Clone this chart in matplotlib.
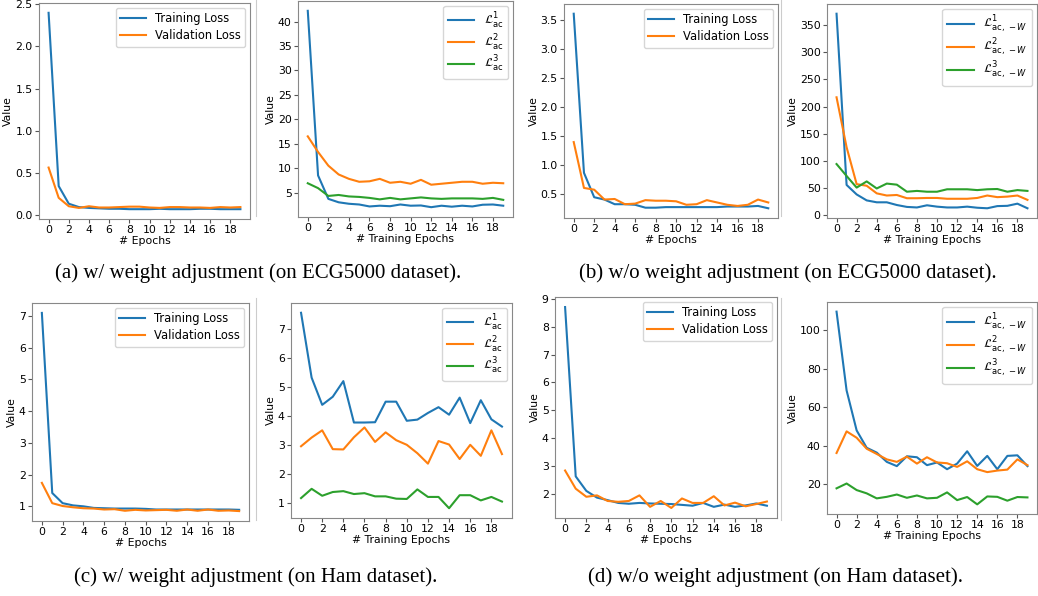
import numpy as np
import matplotlib.pyplot as plt
from matplotlib.lines import Line2D

epochs = np.arange(20)

# (a) ECG5000, with weight adjustment
ecg_w_train = [2.40, 0.34, 0.13, 0.09, 0.08, 0.075, 0.07, 0.07, 0.065, 0.065,
               0.065, 0.07, 0.065, 0.065, 0.065, 0.07, 0.07, 0.065, 0.065, 0.065]
ecg_w_val = [0.56, 0.20, 0.10, 0.08, 0.10, 0.085, 0.085, 0.09, 0.095, 0.095,
             0.085, 0.08, 0.09, 0.09, 0.085, 0.085, 0.08, 0.09, 0.085, 0.09]
ecg_w_l1 = [42.2, 8.5, 3.7, 3.0, 2.7, 2.55, 2.15, 2.3, 2.2, 2.55,
            2.3, 2.35, 2.0, 2.3, 2.1, 2.3, 2.15, 2.5, 2.55, 2.3]
ecg_w_l2 = [16.5, 13.3, 10.5, 8.7, 7.8, 7.2, 7.3, 7.8, 7.0, 7.2,
            6.8, 7.6, 6.6, 6.8, 7.0, 7.2, 7.2, 6.8, 7.0, 6.9]
ecg_w_l3 = [6.9, 5.9, 4.3, 4.5, 4.2, 4.1, 3.9, 3.6, 3.9, 3.6,
            3.8, 4.0, 3.8, 3.7, 3.8, 3.8, 3.8, 3.7, 3.9, 3.5]

# (b) ECG5000, without weight adjustment
ecg_nw_train = [3.6, 0.86, 0.44, 0.40, 0.32, 0.32, 0.31, 0.26, 0.26, 0.27,
                0.27, 0.27, 0.27, 0.27, 0.27, 0.28, 0.28, 0.28, 0.29, 0.25]
ecg_nw_val = [1.39, 0.60, 0.57, 0.40, 0.41, 0.32, 0.33, 0.39, 0.38, 0.38,
              0.37, 0.31, 0.32, 0.39, 0.35, 0.31, 0.29, 0.31, 0.40, 0.35]
ecg_nw_l1 = [371, 55.5, 38, 27, 23.5, 23.5, 18.5, 15, 14, 18,
             15.5, 14, 14, 15.5, 13.5, 12.5, 16.5, 17, 21, 12.5]
ecg_nw_l2 = [217, 125, 57, 54, 40, 36, 37, 31, 31, 31.5,
             31.5, 30, 30, 30, 31.5, 36, 33, 34, 36, 28]
ecg_nw_l3 = [94, 72, 50.6, 62, 49, 58, 56, 43, 44.5, 43,
             43, 47.5, 47.5, 47.5, 46, 47.5, 48, 43, 46, 44.5]

# (c) Ham, with weight adjustment
ham_w_train = [7.1, 1.42, 1.10, 1.03, 1.00, 0.95, 0.94, 0.93, 0.93, 0.93,
               0.92, 0.90, 0.90, 0.90, 0.90, 0.90, 0.90, 0.90, 0.90, 0.89]
ham_w_val = [1.74, 1.10, 1.01, 0.97, 0.94, 0.93, 0.90, 0.91, 0.86, 0.89,
             0.87, 0.88, 0.89, 0.86, 0.90, 0.86, 0.90, 0.86, 0.87, 0.85]
ham_w_l1 = [7.56, 5.32, 4.38, 4.66, 5.2, 3.77, 3.77, 3.78, 4.49, 4.49,
            3.83, 3.87, 4.1, 4.3, 4.04, 4.63, 3.75, 4.54, 3.88, 3.63]
ham_w_l2 = [2.95, 3.25, 3.5, 2.85, 2.84, 3.26, 3.6, 3.1, 3.43, 3.16,
            3.0, 2.71, 2.35, 3.13, 3.01, 2.51, 3.0, 2.62, 3.5, 2.68]
ham_w_l3 = [1.16, 1.48, 1.24, 1.37, 1.4, 1.3, 1.33, 1.22, 1.22, 1.14,
            1.13, 1.46, 1.2, 1.2, 0.81, 1.26, 1.26, 1.08, 1.2, 1.04]

# (d) Ham, without weight adjustment
ham_nw_train = [8.7, 2.64, 2.12, 1.88, 1.79, 1.69, 1.66, 1.69, 1.67, 1.66,
                1.65, 1.62, 1.59, 1.69, 1.55, 1.63, 1.55, 1.60, 1.67, 1.59]
ham_nw_val = [2.85, 2.20, 1.91, 1.96, 1.76, 1.73, 1.76, 1.96, 1.55, 1.76,
              1.51, 1.85, 1.69, 1.69, 1.93, 1.60, 1.70, 1.57, 1.65, 1.74]
ham_nw_l1 = [109.5, 68.7, 48, 39, 36.5, 31.7, 29.5, 34.6, 34.1, 30,
             31.4, 27.9, 30.8, 37.2, 29.6, 34.8, 27.9, 34.8, 35.1, 29.5]
ham_nw_l2 = [36.3, 47.5, 44.2, 38.5, 35.8, 33, 31.7, 34.4, 30.8, 34.1,
             31.4, 31, 29.1, 32, 27.9, 26.4, 27.2, 27.7, 33, 30]
ham_nw_l3 = [18, 20.5, 17.1, 15.4, 12.8, 13.6, 14.8, 13.1, 14.3, 12.8,
             13.1, 15.9, 11.9, 13.5, 9.7, 13.8, 13.6, 11.6, 13.5, 13.3]

loss_labels = ["Training Loss", "Validation Loss"]
ac_labels = [r"$\mathcal{L}^{1}_{\mathrm{ac}}$",
             r"$\mathcal{L}^{2}_{\mathrm{ac}}$",
             r"$\mathcal{L}^{3}_{\mathrm{ac}}$"]
acw_labels = [r"$\mathcal{L}^{1}_{\mathrm{ac},\,-W}$",
              r"$\mathcal{L}^{2}_{\mathrm{ac},\,-W}$",
              r"$\mathcal{L}^{3}_{\mathrm{ac},\,-W}$"]
captions = ["(a) w/ weight adjustment (on ECG5000 dataset).",
            "(b) w/o weight adjustment (on ECG5000 dataset).",
            "(c) w/ weight adjustment (on Ham dataset).",
            "(d) w/o weight adjustment (on Ham dataset)."]

W, H = 1038, 596
fig = plt.figure(figsize=(W / 100, H / 100), dpi=100)


def box(x0, y0, x1, y1):
    return [x0 / W, 1 - y1 / H, (x1 - x0) / W, (y1 - y0) / H]


def panel(rect, series, labels, xlabel, yticks, math=False):
    ax = fig.add_axes(box(*rect))
    colors = ["tab:blue", "tab:orange", "tab:green"]
    for s, lab, c in zip(series, labels, colors):
        ax.plot(epochs, s, color=c, label=lab, lw=1.5)
    ax.set_xticks(range(0, 20, 2))
    ax.set_yticks(yticks)
    ax.tick_params(labelsize=7.8, color="#555555", length=3, pad=1.5)
    for sp in ax.spines.values():
        sp.set_color("#888888")
    ax.set_xlabel(xlabel, fontsize=7.8, labelpad=0.5)
    ax.set_ylabel("Value", fontsize=7.8, labelpad=1.5)
    if math:
        ax.legend(loc="upper right", fontsize=8.6, handlelength=2.2,
                  labelspacing=0.15, borderaxespad=0.4)
    else:
        ax.legend(loc="upper right", fontsize=8.3, handlelength=2.2,
                  labelspacing=0.35, borderaxespad=0.4)
    return ax


panel((39, 3, 250, 219), [ecg_w_train, ecg_w_val], loss_labels, "# Epochs",
      [0, 0.5, 1.0, 1.5, 2.0, 2.5])
panel((298, 1, 513, 217), [ecg_w_l1, ecg_w_l2, ecg_w_l3], ac_labels,
      "# Training Epochs", range(5, 45, 5), math=True)
panel((564, 4, 778, 218), [ecg_nw_train, ecg_nw_val], loss_labels, "# Epochs",
      [0.5, 1.0, 1.5, 2.0, 2.5, 3.0, 3.5])
panel((827, 4, 1037, 218), [ecg_nw_l1, ecg_nw_l2, ecg_nw_l3], acw_labels,
      "# Training Epochs", range(0, 400, 50), math=True)
panel((32, 303, 249, 521), [ham_w_train, ham_w_val], loss_labels, "# Epochs",
      range(1, 8))
panel((291, 303, 512, 518), [ham_w_l1, ham_w_l2, ham_w_l3], ac_labels,
      "# Training Epochs", range(1, 8), math=True)
panel((555, 297, 777, 518), [ham_nw_train, ham_nw_val], loss_labels, "# Epochs",
      range(2, 10))
panel((827, 302, 1037, 514), [ham_nw_l1, ham_nw_l2, ham_nw_l3], acw_labels,
      "# Training Epochs", range(20, 120, 20), math=True)

# faint borders of the embedded images
for x, y0, y1 in [(256, 0, 216), (781, 0, 216), (256, 298, 520), (781, 298, 520)]:
    fig.add_artist(Line2D([x / W, x / W], [1 - y0 / H, 1 - y1 / H],
                          color="#cccccc", lw=0.8))

cap_pos = [(258, 273), (788, 273), (256, 577), (776, 577)]
for (cx, cy), txt in zip(cap_pos, captions):
    fig.text(cx / W, 1 - cy / H, txt, ha="center", va="center",
             fontsize=15, family="Liberation Serif")

fig.savefig("out.png", dpi=100)
